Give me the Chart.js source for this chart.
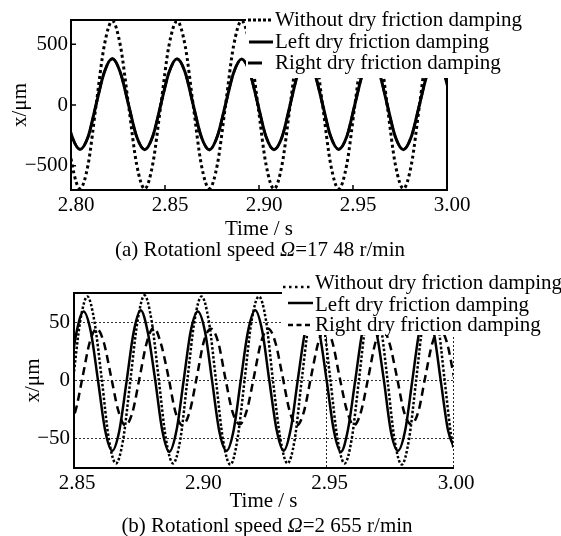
<!DOCTYPE html>
<html><head><meta charset="utf-8">
<script src="https://cdn.jsdelivr.net/npm/chart.js@4.4.1/dist/chart.umd.min.js"></script>
<style>
html,body{margin:0;padding:0;background:#fff;}
#wrap{position:relative;width:561px;height:536px;overflow:hidden;background:#fff;}
canvas{position:absolute;left:0;}
.cap{position:absolute;font-family:'Liberation Serif','Times New Roman',serif;font-size:21px;line-height:21px;color:#000;white-space:nowrap;transform:translateX(-50%);}
</style></head><body>
<div id="wrap">
<canvas id="cA" width="561" height="262" style="top:0"></canvas>
<canvas id="cB" width="561" height="274" style="top:262px"></canvas>
<div class="cap" id="capA" style="top:239px;left:260px"></div>
<div class="cap" id="capB" style="top:515px;left:267px"></div>
</div>
<script>
// ---------- data ----------
const seriesLabels = ['Without dry friction damping', 'Left dry friction damping', 'Right dry friction damping'];
const xTitle = 'Time / s';
const yTitle = 'x/\u03bcm';
const captionA = ['(a) Rotationl speed ', '\u03a9', '=17 48 r/min'];
const captionB = ['(b) Rotationl speed ', '\u03a9', '=2 655 r/min'];

// (a) 1748 r/min
const timeA = [2.7962, 2.8005, 2.8048, 2.8091, 2.8134, 2.8177, 2.8220, 2.8263, 2.8306, 2.8349, 2.8392, 2.8435, 2.8478, 2.8521, 2.8564, 2.8607, 2.8650, 2.8693, 2.8736, 2.8779, 2.8822, 2.8865, 2.8908, 2.8951, 2.8994, 2.9037, 2.9080, 2.9123, 2.9166, 2.9209, 2.9252, 2.9295, 2.9338, 2.9381, 2.9424, 2.9467, 2.9510, 2.9553, 2.9596, 2.9639, 2.9682, 2.9725, 2.9768, 2.9811, 2.9854, 2.9897, 2.9940, 2.9983, 3.0026];
const withoutA = [0, -485, -688, -490, 5, 490, 692, 486, 0, -488, -690, -485, 3, 488, 690, 490, -2, -490, -688, -486, 0, 489, 693, 487, 2, -487, -690, -488, 0, 490, 690, 488, 3, -486, -691, -489, 0, 487, 692, 490, -2, -488, -688, -487, 2, 490, 690, 486, 0];
const leftA = [5, -258, -366, -262, 8, 270, 382, 266, 4, -260, -368, -258, 6, 268, 380, 270, 2, -262, -370, -256, 5, 266, 378, 268, 6, -260, -368, -262, 4, 270, 376, 266, 7, -258, -366, -260, 5, 268, 380, 270, 3, -262, -368, -258, 6, 266, 378, 268, 4];
const rightA = [4, -256, -364, -260, 6, 268, 378, 265, 3, -258, -366, -257, 5, 266, 378, 268, 1, -260, -367, -255, 4, 264, 376, 266, 5, -258, -366, -260, 3, 268, 374, 265, 6, -256, -364, -258, 4, 266, 378, 268, 2, -260, -366, -256, 5, 264, 376, 266, 3];
const xTicksA = [2.80, 2.85, 2.90, 2.95, 3.00];
const xTickLabelsA = ['2.80', '2.85', '2.90', '2.95', '3.00'];
const yTicksA = [-500, 0, 500];
const yTickLabelsA = ['\u2212500', '0', '500'];

// (b) 2655 r/min
const timeWithoutB = [2.8496, 2.8525, 2.8553, 2.8581, 2.8610, 2.8638, 2.8666, 2.8694, 2.8723, 2.8751, 2.8779, 2.8807, 2.8836, 2.8864, 2.8892, 2.8921, 2.8949, 2.8977, 2.9005, 2.9034, 2.9062, 2.9090, 2.9119, 2.9147, 2.9175, 2.9203, 2.9232, 2.9260, 2.9288, 2.9317, 2.9345, 2.9373, 2.9401, 2.9430, 2.9458, 2.9486, 2.9515, 2.9543, 2.9571, 2.9599, 2.9628, 2.9656, 2.9684, 2.9712, 2.9741, 2.9769, 2.9797, 2.9826, 2.9854, 2.9882, 2.9910, 2.9939, 2.9967, 2.9995, 3.0023];
const withoutB = [0, 52, 73, 51, 1, -51, -72, -52, 0, 51, 74, 52, 0, -51, -72, -51, 1, 52, 73, 51, 0, -52, -73, -51, 0, 52, 73, 52, -1, -51, -72, -52, 0, 51, 74, 52, 0, -51, -72, -51, 1, 52, 73, 51, 0, -52, -73, -51, 0, 52, 73, 52, 0, -51, -72];
const timeLeftB = [2.8481, 2.8510, 2.8538, 2.8566, 2.8595, 2.8623, 2.8651, 2.8679, 2.8708, 2.8736, 2.8764, 2.8792, 2.8821, 2.8849, 2.8877, 2.8906, 2.8934, 2.8962, 2.8990, 2.9019, 2.9047, 2.9075, 2.9104, 2.9132, 2.9160, 2.9188, 2.9217, 2.9245, 2.9273, 2.9302, 2.9330, 2.9358, 2.9386, 2.9415, 2.9443, 2.9471, 2.9500, 2.9528, 2.9556, 2.9584, 2.9613, 2.9641, 2.9669, 2.9697, 2.9726, 2.9754, 2.9782, 2.9811, 2.9839, 2.9867, 2.9895, 2.9924, 2.9952, 2.9980, 3.0008];
const leftB = [1, 42, 60, 43, 0, -43, -61, -44, -1, 42, 61, 42, 1, -43, -62, -43, 0, 43, 60, 42, -1, -44, -61, -43, 0, 42, 61, 43, 0, -43, -61, -42, 1, 43, 60, 42, 0, -43, -62, -43, 0, 42, 60, 42, 1, -44, -61, -43, 0, 43, 61, 42, -1, -43, -60];
const timeRightB = [2.8477, 2.8505, 2.8533, 2.8562, 2.8590, 2.8618, 2.8647, 2.8675, 2.8703, 2.8731, 2.8760, 2.8788, 2.8816, 2.8844, 2.8873, 2.8901, 2.8929, 2.8958, 2.8986, 2.9014, 2.9042, 2.9071, 2.9099, 2.9127, 2.9156, 2.9184, 2.9212, 2.9240, 2.9269, 2.9297, 2.9325, 2.9354, 2.9382, 2.9410, 2.9438, 2.9467, 2.9495, 2.9523, 2.9552, 2.9580, 2.9608, 2.9636, 2.9665, 2.9693, 2.9721, 2.9749, 2.9778, 2.9806, 2.9834, 2.9863, 2.9891, 2.9919, 2.9947, 2.9976, 3.0004, 3.0032];
const rightB = [-38, -27, 2, 33, 45, 33, 3, -26, -39, -28, 3, 33, 46, 32, 4, -27, -39, -27, 3, 34, 45, 33, 2, -27, -38, -26, 3, 33, 45, 33, 4, -27, -39, -27, 3, 33, 46, 33, 2, -26, -39, -27, 3, 33, 45, 32, 3, -27, -38, -27, 4, 33, 45, 33, 3, -27];
const xTicksB = [2.85, 2.90, 2.95, 3.00];
const xTickLabelsB = ['2.85', '2.90', '2.95', '3.00'];
const xGridB = [2.95, 3.00];
const yTicksB = [-50, 0, 50];
const yTickLabelsB = ['\u221250', '0', '50'];

// ---------- helpers ----------
const FAMILY = "'Liberation Serif','Times New Roman',serif";
const FONT = "21px " + FAMILY;
Chart.defaults.font.family = FAMILY;
Chart.defaults.font.size = 21;
Chart.defaults.color = '#000';

function pts(ts, vs) { return ts.map((t, i) => ({ x: t, y: vs[i] })); }
function tickSetter(values) { return s => { s.ticks = values.map(v => ({ value: v })); }; }
function tickLabel(values, labels) {
  return v => { const i = values.findIndex(u => Math.abs(u - v) < 1e-9); return i >= 0 ? labels[i] : ''; };
}
function setCaption(id, parts) {
  const el = document.getElementById(id);
  el.appendChild(document.createTextNode(parts[0]));
  const it = document.createElement('i'); it.textContent = parts[1]; el.appendChild(it);
  el.appendChild(document.createTextNode(parts[2]));
}
setCaption('capA', captionA);
setCaption('capB', captionB);

function frameLegendPlugin(o) {
  return {
    id: 'frameLegend',
    beforeDatasetsDraw(chart) {
      const { ctx, chartArea: a } = chart;
      ctx.save();
      ctx.strokeStyle = '#000'; ctx.lineWidth = o.frameWidth; ctx.setLineDash([]);
      ctx.beginPath();
      ctx.moveTo(a.left, a.top); ctx.lineTo(a.right, a.top);
      if (o.rightSolid) { ctx.moveTo(a.right, a.top); ctx.lineTo(a.right, a.bottom); }
      ctx.stroke();
      if (o.innerTicks) {
        ctx.lineWidth = 1.5; ctx.beginPath();
        const sx = chart.scales.x, sy = chart.scales.y;
        sx.ticks.forEach(t => { const px = sx.getPixelForValue(t.value); if (px > a.left + 2 && px < a.right - 2) { ctx.moveTo(px, a.bottom); ctx.lineTo(px, a.bottom - o.innerTicks); } });
        sy.ticks.forEach(t => { const py = sy.getPixelForValue(t.value); ctx.moveTo(a.left, py); ctx.lineTo(a.left + o.innerTicks, py); });
        ctx.stroke();
      }
      ctx.restore();
    },
    afterDatasetsDraw(chart) {
      const { ctx } = chart; const L = o.legend;
      ctx.save();
      ctx.fillStyle = '#fff'; ctx.fillRect(L.x, L.y, L.w, L.h);
      chart.data.datasets.forEach((ds, i) => {
        const r = L.rows[i];
        ctx.strokeStyle = '#000'; ctx.lineWidth = r.lw; ctx.setLineDash(r.dash); ctx.lineCap = 'butt';
        ctx.beginPath(); ctx.moveTo(r.x0, r.y); ctx.lineTo(r.x1, r.y); ctx.stroke();
        ctx.setLineDash([]);
        ctx.fillStyle = '#000'; ctx.font = FONT; ctx.textAlign = 'left'; ctx.textBaseline = 'alphabetic';
        ctx.fillText(ds.label, L.tx, r.base);
      });
      ctx.restore();
    }
  };
}

function lineDs(label, data, width, dash) {
  return { label, data, borderColor: '#000', backgroundColor: '#000', borderWidth: width, borderDash: dash,
    pointRadius: 0, pointHoverRadius: 0, cubicInterpolationMode: 'monotone', fill: false };
}

// ---------- chart (a) ----------
new Chart(document.getElementById('cA'), {
  type: 'line',
  data: { datasets: [
    lineDs(seriesLabels[0], pts(timeA, withoutA), 3, [3, 3]),
    lineDs(seriesLabels[1], pts(timeA, leftA), 3, []),
    lineDs(seriesLabels[2], pts(timeA, rightA), 2.5, [12, 6])
  ] },
  options: {
    responsive: false, animation: false, devicePixelRatio: 1,
    layout: { padding: { left: 0, top: 20, right: 114, bottom: 0 } },
    plugins: { legend: { display: false }, tooltip: { enabled: false }, title: { display: false } },
    scales: {
      x: { type: 'linear', min: 2.80, max: 3.00,
        afterBuildTicks: tickSetter(xTicksA), afterFit: s => { s.height = 72; },
        ticks: { callback: tickLabel(xTicksA, xTickLabelsA), padding: 3, labelOffset: 5, maxRotation: 0, autoSkip: false, color: '#000' },
        grid: { display: false, drawTicks: false },
        border: { display: true, color: '#000', width: 2 },
        title: { display: true, text: xTitle, color: '#000', padding: { top: 0, bottom: 20 } } },
      y: { type: 'linear', min: -700, max: 700,
        afterBuildTicks: tickSetter(yTicksA), afterFit: s => { s.width = 71; },
        ticks: { callback: tickLabel(yTicksA, yTickLabelsA), padding: 3, color: '#000' },
        grid: { display: false, drawTicks: false },
        border: { display: true, color: '#000', width: 2 },
        title: { display: true, text: yTitle, color: '#000', padding: { top: 8, bottom: 0 } } }
    }
  },
  plugins: [frameLegendPlugin({
    frameWidth: 2, rightSolid: true, innerTicks: 5,
    legend: { x: 246, y: 0, w: 315, h: 78, tx: 275, rows: [
      { y: 20, x0: 248, x1: 273, lw: 3, dash: [3, 2], base: 26 },
      { y: 42, x0: 249, x1: 273, lw: 3, dash: [], base: 48 },
      { y: 63, x0: 248, x1: 262, lw: 3, dash: [], base: 69 }
    ] }
  })]
});

// ---------- chart (b) ----------
new Chart(document.getElementById('cB'), {
  type: 'line',
  data: { datasets: [
    lineDs(seriesLabels[0], pts(timeWithoutB, withoutB), 2.5, [2.5, 2]),
    lineDs(seriesLabels[1], pts(timeLeftB, leftB), 2.5, []),
    lineDs(seriesLabels[2], pts(timeRightB, rightB), 2.5, [8, 5])
  ] },
  options: {
    responsive: false, animation: false, devicePixelRatio: 1,
    layout: { padding: { left: 0, top: 31, right: 108, bottom: 0 } },
    plugins: { legend: { display: false }, tooltip: { enabled: false }, title: { display: false } },
    scales: {
      x: { type: 'linear', min: 2.85, max: 3.00,
        afterBuildTicks: tickSetter(xTicksB), afterFit: s => { s.height = 68; },
        ticks: { callback: tickLabel(xTicksB, xTickLabelsB), padding: 3, labelOffset: 3, maxRotation: 0, autoSkip: false, color: '#000' },
        grid: { display: true, drawTicks: false, lineWidth: 1,
          color: c => (c.tick && xGridB.some(v => Math.abs(v - c.tick.value) < 1e-9)) ? '#222' : 'rgba(0,0,0,0)' },
        border: { display: true, color: '#000', width: 2, dash: [2, 2] },
        title: { display: true, text: xTitle, color: '#000', padding: { top: 0, bottom: 22 } } },
      y: { type: 'linear', min: -76, max: 76,
        afterBuildTicks: tickSetter(yTicksB), afterFit: s => { s.width = 74; },
        ticks: { callback: tickLabel(yTicksB, yTickLabelsB), padding: 4, color: '#000' },
        grid: { display: true, drawTicks: false, lineWidth: 1, color: '#333' },
        border: { display: true, color: '#000', width: 2, dash: [2, 2] },
        title: { display: true, text: yTitle, color: '#000', padding: { top: 21, bottom: 0 } } }
    }
  },
  plugins: [frameLegendPlugin({
    frameWidth: 2, rightSolid: false, innerTicks: 0,
    legend: { x: 282, y: 0, w: 279, h: 73, tx: 315, rows: [
      { y: 25, x0: 283, x1: 313, lw: 2.5, dash: [2.5, 3.5], base: 27 },
      { y: 41, x0: 288, x1: 313, lw: 2.5, dash: [], base: 49 },
      { y: 63, x0: 288, x1: 313, lw: 2.5, dash: [5, 3.5], base: 69 }
    ] }
  })]
});
</script>
</body></html>
